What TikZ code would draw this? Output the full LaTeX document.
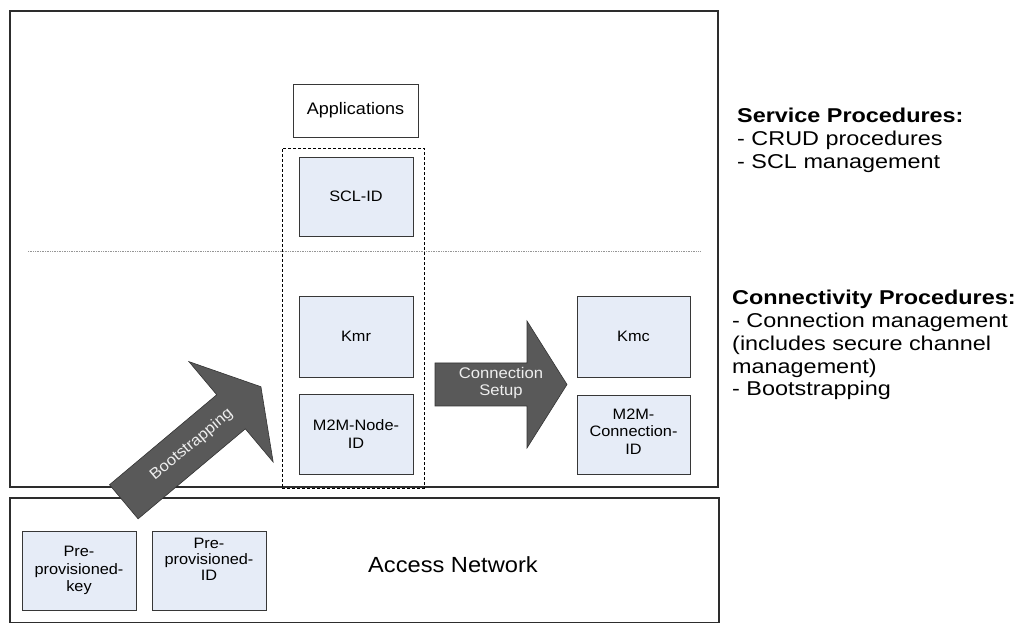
\documentclass[tikz,border=0pt]{standalone}
\usepackage{fontspec}
\setmainfont{Liberation Sans}[FakeStretch=1.08]
\newfontfamily\sidefont{Liberation Sans}[FakeStretch=1.17]
\definecolor{boxfill}{RGB}{230,236,247}
\definecolor{boxline}{RGB}{55,55,55}
\definecolor{frameline}{RGB}{45,45,45}
\definecolor{arrowfill}{RGB}{89,89,89}
\definecolor{arrowtext}{RGB}{238,238,238}
\definecolor{dotline}{RGB}{150,150,150}
\begin{document}
\begin{tikzpicture}[x=1pt,y=1pt,
  frame/.style={draw=frameline, line width=1.2pt, fill=none, inner sep=0pt},
  idbox/.style={draw=boxline, fill=boxfill, line width=0.9pt, inner sep=0pt, align=center,
    font=\fontsize{15.1}{17.5}\selectfont},
  idtext/.style={inner sep=0pt, align=center, font=\fontsize{15.1}{17.5}\selectfont},
  appbox/.style={draw=boxline, fill=white, line width=0.9pt, inner sep=0pt, align=center,
    font=\fontsize{16.7}{19}\selectfont},
  groupbox/.style={draw=black, line width=0.8pt, dash pattern=on 3pt off 2pt, inner sep=0pt},
  blockarrow/.style={draw=black!80, line width=0.6pt, fill=arrowfill},
  arrowlabel/.style={text=arrowtext, inner sep=0pt, align=center, font=\fontsize{15.4}{17.5}\selectfont},
  sidetext/.style={inner sep=0pt, align=left, font=\sidefont\fontsize{20}{22.7}\selectfont},
]
\useasboundingbox (0,0) rectangle (1028,624);

% outer frames
\node[frame, minimum width=708pt, minimum height=476pt] (main) at (364,375) {};
\node[frame, minimum width=709pt, minimum height=124.5pt] (access) at (364.5,63.75) {};

% dotted separator
\coordinate (sepL) at (28,373);
\coordinate (sepR) at (700,373);
\draw[dotline, line width=0.7pt, densely dotted] (sepL) -- (sepR);

% application box
\node[appbox, minimum width=125pt, minimum height=53pt] (apps) at (355.5,513.5) {Applications};

% identity boxes
\node[idbox, minimum width=114pt, minimum height=79pt] (sclid) at (356,427.5) {SCL-ID};
\node[idbox, minimum width=114pt, minimum height=81pt] (kmr) at (356,287.5) {Kmr};
\node[idbox, minimum width=114pt, minimum height=80pt] (nodeid) at (356,190) {M2M-Node-\\ID};
\node[idbox, minimum width=113pt, minimum height=81pt] (kmc) at (633.5,287.5) {Kmc};
\node[idbox, minimum width=113pt, minimum height=79pt] (connid) at (633.5,189.5) {};
\node[idtext] (connidtext) at (633.5,192.5) {M2M-\\Connection-\\ID};
\node[idbox, minimum width=114pt, minimum height=79pt] (prekey) at (79,53.5) {Pre-\\provisioned-\\key};
\node[idbox, minimum width=114pt, minimum height=79pt] (preid) at (209,53.5) {};
\node[idtext, font=\fontsize{15.1}{16}\selectfont] (preidtext) at (209,65) {Pre-\\provisioned-\\ID};

% dashed group
\node[groupbox, minimum width=142pt, minimum height=340pt] (group) at (353,306) {};

% Access Network label
\node[inner sep=0pt, anchor=base west, font=\fontsize{21.9}{26}\selectfont] (accesslabel) at (368,52) {Access Network};

% Connection Setup arrow
\begin{scope}[shift={(435,239.5)}]
  \draw[blockarrow] (0,-21.5) -- (92,-21.5) -- (92,-63.5) -- (132,0) -- (92,63.5) -- (92,21.5) -- (0,21.5) -- cycle;
  \node[arrowlabel] (conn) at (66,1.5) {Connection\\Setup};
\end{scope}

% Bootstrapping arrow
\begin{scope}[shift={(123.8,122.2)}, rotate=40]
  \draw[blockarrow] (0,-22.25) -- (140,-22.25) -- (140,-65.5) -- (179,0) -- (140,65.5) -- (140,22.25) -- (0,22.25) -- cycle;
  \node[arrowlabel, rotate=40] (boot) at (88.6,0) {Bootstrapping};
\end{scope}

% side texts (base anchor = baseline of last line)
\node[sidetext, anchor=base west] (service) at (737,455.6)
  {\textbf{Service Procedures:}\\- CRUD procedures\\- SCL management};
\node[sidetext, anchor=base west] (connectivity) at (732,228.2)
  {\textbf{Connectivity Procedures:}\\- Connection management\\(includes secure channel\\management)\\- Bootstrapping};
\end{tikzpicture}
\end{document}
